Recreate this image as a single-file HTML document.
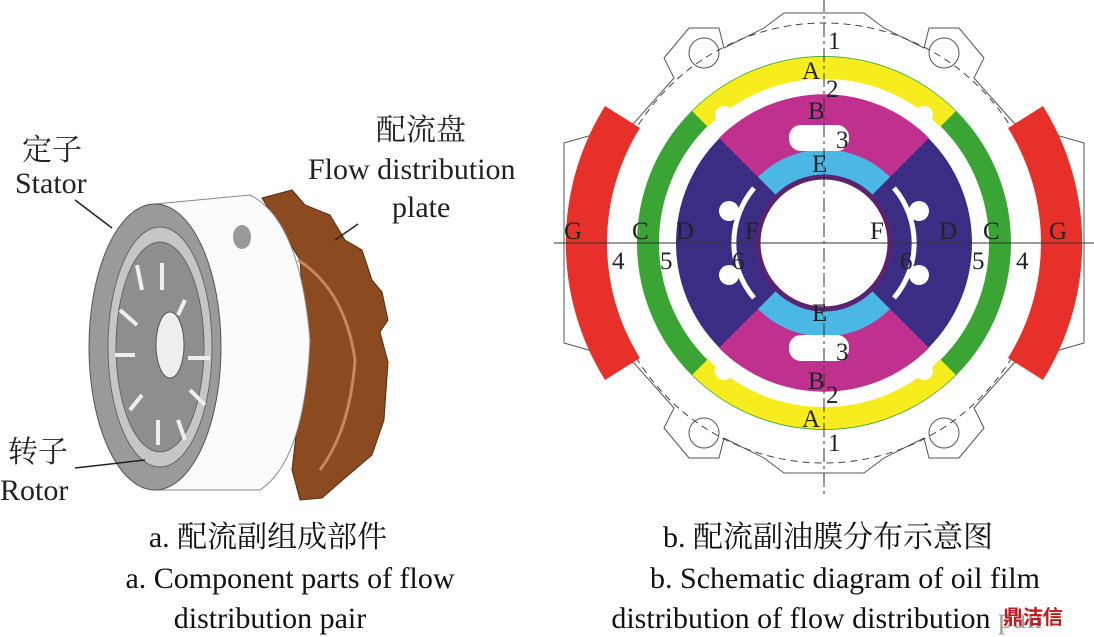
<!DOCTYPE html>
<html><head><meta charset="utf-8"><style>
body{margin:0;width:1094px;height:637px;background:#fff;overflow:hidden;font-family:"Liberation Serif","Noto Serif CJK SC",serif}
svg{position:absolute;left:0;top:0}
</style></head><body>
<svg width="1094" height="637" viewBox="0 0 1094 637" font-family="Liberation Serif, Noto Serif CJK SC, serif">
<!-- LEFT: 3D parts -->
<path d="M262 198 L292 190 L305 205 L330 215 L345 240 L362 250 L372 280 L382 292 L388 320 L380 332 L388 362 L384 420 L372 455 L345 478 L322 498 L300 500 L292 470 L300 400 L305 330 L300 260 Z" fill="#8b4a1f" stroke="#5a2e10"/>
<path d="M298 260 Q345 290 355 360 Q350 430 320 470" fill="none" stroke="#c48a5a" stroke-width="3"/>
<path d="M155 204 L250 195 Q300 220 310 340 Q305 460 260 490 L155 490 Z" fill="#fbfbfb" stroke="#888"/>
<ellipse cx="242" cy="237" rx="9" ry="12" fill="#999"/>
<ellipse cx="155" cy="347" rx="66" ry="143" fill="#9a9a9a" stroke="#555"/>
<ellipse cx="160" cy="347" rx="52" ry="120" fill="#c6c6c6" stroke="#666"/>
<ellipse cx="160" cy="347" rx="44" ry="105" fill="#8e8e8e" stroke="#666"/>
<ellipse cx="170" cy="345" rx="14" ry="33" fill="#eee" stroke="#555"/>
<g stroke="#eee" stroke-width="4">
<line x1="137" y1="265" x2="142" y2="290"/><line x1="162" y1="263" x2="162" y2="290"/><line x1="185" y1="300" x2="178" y2="315"/>
<line x1="115" y1="355" x2="135" y2="355"/><line x1="188" y1="358" x2="210" y2="358"/><line x1="130" y1="410" x2="142" y2="395"/>
<line x1="158" y1="420" x2="158" y2="445"/><line x1="178" y1="420" x2="185" y2="440"/><line x1="190" y1="390" x2="205" y2="405"/><line x1="120" y1="310" x2="137" y2="325"/>
</g>
<g font-size="30" fill="#222">
<text x="22" y="160">定子</text><text x="15" y="193">Stator</text>
<text x="376" y="140">配流盘</text><text x="308" y="179">Flow distribution</text><text x="392" y="217">plate</text>
<text x="8" y="462">转子</text><text x="0" y="500">Rotor</text>
</g>
<g stroke="#222" stroke-width="1.5"><line x1="75" y1="200" x2="112" y2="228"/><line x1="335" y1="240" x2="358" y2="224"/><line x1="75" y1="468" x2="145" y2="460"/></g>
<!-- RIGHT: schematic -->
<g transform="translate(824,243)">
<path d="M-190 -120 L-150 -165 L-160 -185 L-135 -215 L-105 -215 L-100 -195 L-60 -215 L-40 -230 L40 -230 L60 -215 L100 -195 L105 -215 L135 -215 L160 -185 L150 -165 L190 -120 L260 -100 L260 100 L190 120 L150 165 L160 185 L135 215 L105 215 L100 195 L60 215 L40 230 L-40 230 L-60 215 L-100 195 L-105 215 L-135 215 L-160 185 L-150 165 L-190 120 L-260 100 L-260 -100 Z" fill="#fff" stroke="#555"/>
<g fill="#fff" stroke="#555"><circle cx="-120" cy="-190" r="15"/><circle cx="120" cy="-190" r="15"/><circle cx="-120" cy="190" r="15"/><circle cx="120" cy="190" r="15"/></g>
<circle r="220" fill="none" stroke="#444" stroke-dasharray="7 5"/>
<path d="M-219 -137 A259 259 0 0 0 -219 137 L-184 115 A217 217 0 0 1 -184 -115 Z" fill="#e8302a"/>
<path d="M219 -137 A259 259 0 0 1 219 137 L184 115 A217 217 0 0 0 184 -115 Z" fill="#e8302a"/>
<circle r="176" fill="none" stroke="#3aa535" stroke-width="22"/>
<path d="M-124 -124 A176 176 0 0 1 124 -124" fill="none" stroke="#f7ec1e" stroke-width="22"/>
<path d="M-124 124 A176 176 0 0 0 124 124" fill="none" stroke="#f7ec1e" stroke-width="22"/>
<circle r="148" fill="#3b2d84"/>
<path d="M0 0 L-105 -105 A148 148 0 0 1 105 -105 Z" fill="#c0318f"/>
<path d="M0 0 L-105 105 A148 148 0 0 0 105 105 Z" fill="#c0318f"/>
<path d="M-66 -66 A93 93 0 0 1 66 -66 L47 -47 A66 66 0 0 0 -47 -47 Z" fill="#4bb7e4"/>
<path d="M-66 66 A93 93 0 0 0 66 66 L47 47 A66 66 0 0 1 -47 47 Z" fill="#4bb7e4"/>
<circle r="66" fill="#fff" stroke="#5a2270" stroke-width="5"/>
<g fill="#fff"><rect x="-35" y="-118" width="60" height="26" rx="12"/><rect x="-35" y="92" width="60" height="26" rx="12"/>
<circle cx="-95" cy="-32" r="10"/><circle cx="-95" cy="32" r="10"/><circle cx="95" cy="-32" r="10"/><circle cx="95" cy="32" r="10"/>
<circle cx="-100" cy="-128" r="9"/><circle cx="100" cy="-128" r="9"/><circle cx="-100" cy="128" r="9"/><circle cx="100" cy="128" r="9"/></g>
<path d="M-70 -55 A85 85 0 0 0 -70 55" fill="none" stroke="#fff" stroke-width="5"/>
<path d="M70 -55 A85 85 0 0 1 70 55" fill="none" stroke="#fff" stroke-width="5"/>
<line x1="-270" y1="0" x2="270" y2="0" stroke="#333"/>
<line x1="0" y1="-245" x2="0" y2="255" stroke="#333" stroke-dasharray="14 4 3 4"/>
<g font-size="25" fill="#222">
<text x="4" y="-194">1</text><text x="-22" y="-164">A</text><text x="2" y="-146">2</text><text x="-16" y="-124">B</text><text x="12" y="-95">3</text><text x="-12" y="-71">E</text>
<text x="-12" y="78">E</text><text x="12" y="117">3</text><text x="-16" y="146">B</text><text x="2" y="160">2</text><text x="-22" y="184">A</text><text x="4" y="208">1</text>
<text x="-260" y="-4">G</text><text x="-192" y="-4">C</text><text x="-148" y="-4">D</text><text x="-79" y="-4">F</text>
<text x="46" y="-4">F</text><text x="115" y="-4">D</text><text x="159" y="-4">C</text><text x="225" y="-4">G</text>
<text x="-212" y="26">4</text><text x="-164" y="26">5</text><text x="-92" y="26">6</text><text x="76" y="26">6</text><text x="148" y="26">5</text><text x="192" y="26">4</text>
</g>
</g>
<g font-size="30" fill="#111" text-anchor="middle">
<text x="268" y="547">a.  配流副组成部件</text><text x="290" y="588">a. Component parts of flow</text><text x="270" y="628">distribution pair</text>
<text x="828" y="547">b.  配流副油膜分布示意图</text><text x="845" y="588">b. Schematic diagram of oil film</text><text x="828" y="628">distribution of flow distribution pair</text>
</g>
<rect x="990" y="600" width="104" height="37" fill="#fff" opacity="0.6"/>
<text x="1003" y="624" font-size="20" fill="#c8161d" font-family="Liberation Sans, Noto Sans CJK SC, sans-serif" font-weight="bold">鼎洁信</text>
</svg>
</body></html>
